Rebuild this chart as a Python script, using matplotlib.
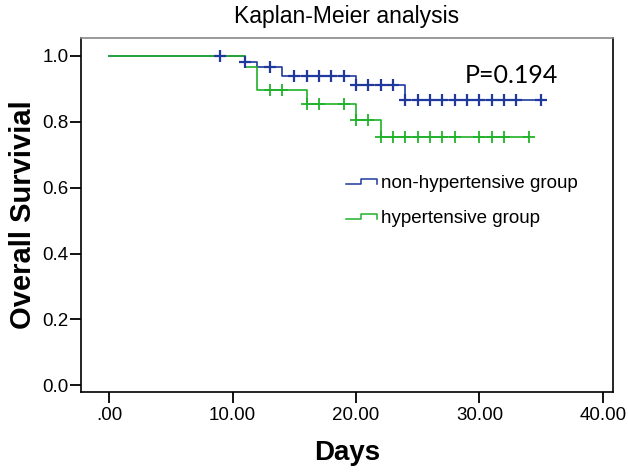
import matplotlib
matplotlib.use('Agg')
import matplotlib.pyplot as plt
from matplotlib.legend_handler import HandlerBase
from matplotlib.lines import Line2D

# Kaplan-Meier step data
blue_times = [0, 11, 12, 14, 20, 24]
blue_surv = [1.0, 0.983, 0.965, 0.940, 0.912, 0.866]
blue_end = 35
blue_censor = [9, 11, 13, 15, 16, 17, 18, 19, 20, 21, 22, 23, 24, 25, 26,
               27, 28, 29, 30, 31, 32, 33, 35]

green_times = [0, 11, 12, 16, 20, 22]
green_surv = [1.0, 0.966, 0.897, 0.855, 0.804, 0.754]
green_end = 34
green_censor = [13, 14, 16, 17, 19, 20, 21, 22, 23, 24, 25, 26, 27, 28,
                30, 31, 32, 34]

xticks = [0, 10, 20, 30, 40]
xtick_labels = ['.00', '10.00', '20.00', '30.00', '40.00']
yticks = [0.0, 0.2, 0.4, 0.6, 0.8, 1.0]
ytick_labels = ['0.0', '0.2', '0.4', '0.6', '0.8', '1.0']

BLUE = '#1f3a9c'
GREEN = '#20b22b'

plt.rcParams['font.family'] = ['Liberation Sans', 'DejaVu Sans']


def step_value(times, surv, t):
    v = surv[0]
    for ti, si in zip(times, surv):
        if t >= ti:
            v = si
    return v


class StepHandler(HandlerBase):
    # legend sample drawn as a small step, like SPSS does
    def create_artists(self, legend, orig_handle, xdescent, ydescent,
                       width, height, fontsize, trans):
        x0 = -xdescent
        lo = -ydescent + height * 0.3
        hi = -ydescent + height * 0.75
        xs = [x0, x0 + width * 0.45, x0 + width * 0.45, x0 + width * 0.95,
              x0 + width * 0.95]
        ys = [lo, lo, hi, hi, lo + height * 0.05]
        ln = Line2D(xs, ys, color=orig_handle.get_color(), lw=1.1,
                    transform=trans)
        return [ln]


fig = plt.figure(figsize=(6.28, 4.73), dpi=100)
ax = fig.add_axes([0.129, 0.171, 0.847, 0.749])

# curves (green drawn over blue like in the original)
bx = blue_times + [blue_end]
by = blue_surv + [blue_surv[-1]]
gx = green_times + [green_end]
gy = green_surv + [green_surv[-1]]
lb, = ax.step(bx, by, where='post', color=BLUE, lw=1.2, zorder=2)
lg, = ax.step(gx, gy, where='post', color=GREEN, lw=1.2, zorder=3)

# censor marks
ax.plot(blue_censor, [step_value(blue_times, blue_surv, t) for t in blue_censor],
        ls='none', marker='+', ms=8.5, mew=1.6, color=BLUE, zorder=4)
ax.plot(green_censor, [step_value(green_times, green_surv, t) for t in green_censor],
        ls='none', marker='+', ms=8.5, mew=1.3, color=GREEN, zorder=4)

ax.set_xlim(-2.27, 40.81)
ax.set_ylim(-0.021, 1.055)
ax.set_xticks(xticks)
ax.set_xticklabels(xtick_labels)
ax.set_yticks(yticks)
ax.set_yticklabels(ytick_labels)
ax.tick_params(axis='both', direction='out', length=8, width=1.3,
               labelsize=13.5, color='black')
ax.tick_params(axis='x', pad=3)
ax.tick_params(axis='y', pad=1)
for s in ax.spines.values():
    s.set_color('black')
    s.set_linewidth(1.2)
ax.spines['top'].set_color('#888888')

ax.set_title('Kaplan-Meier analysis', fontsize=16.5, pad=11)
ax.set_xlabel('Days', fontsize=20, fontweight='bold', labelpad=11)
ax.set_ylabel('Overall Survivial', fontsize=21, fontweight='bold', labelpad=4)

ax.text(32.6, 0.942, 'P=0.194', fontsize=18, family=['Lato', 'DejaVu Sans'],
        ha='center', va='center')

ax.legend([lb, lg], ['non-hypertensive group', 'hypertensive group'],
          handler_map={Line2D: StepHandler()},
          loc='upper left', bbox_to_anchor=(0.498, 0.612), frameon=False,
          fontsize=13.5, handlelength=1.75, handletextpad=0.1,
          labelspacing=0.95, borderpad=0, borderaxespad=0)

fig.savefig('out.png', dpi=100)
